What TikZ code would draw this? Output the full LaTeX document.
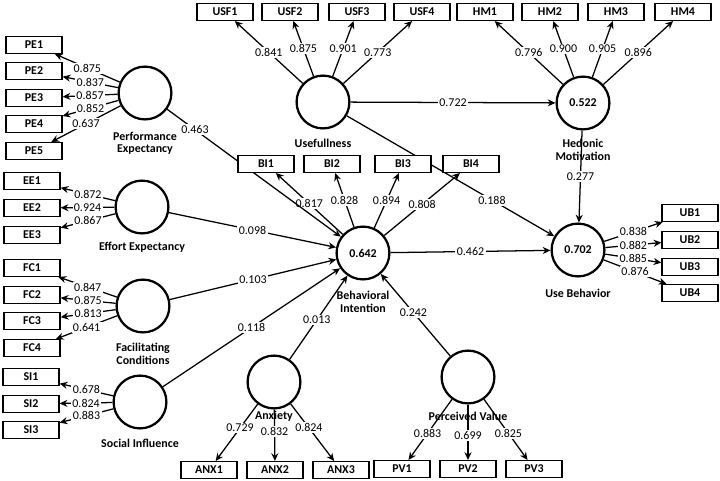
\documentclass[tikz,border=0pt]{standalone}
\usepackage{fontspec}
\setmainfont{Carlito}
\usetikzlibrary{arrows.meta,backgrounds}

\newcommand{\tamano}{\fontsize{8.5}{8.8}\selectfont}

\begin{document}
\begin{tikzpicture}[x=0.025cm,y=-0.025cm,font=\tamano,
  latent/.style={draw,circle,line width=1.6pt,minimum size=1.32cm,inner sep=0pt,fill=white,font=\tamano\bfseries},
  ind/.style={draw,line width=0.9pt,minimum width=1.4cm,minimum height=0.42cm,inner sep=0pt,fill=white,font=\tamano\bfseries},
  nombre/.style={font=\tamano\bfseries,align=center},
  carga/.style={fill=white,inner sep=1pt},
  flecha/.style={line width=0.9pt,-{Stealth[length=5.5pt,width=5pt]}}]
\useasboundingbox (0,0) rectangle (720,480);

% Constructos (circulos)
\node[latent] (PE) at (145,93) {};
\node[latent] (EE) at (142,207) {};
\node[latent] (FC) at (143,306) {};
\node[latent] (SI) at (140,402) {};
\node[latent] (USF) at (323,102) {};
\node[latent] (HM) at (583,103) {0.522};
\node[latent] (BI) at (363,253) {0.642};
\node[latent] (UB) at (578,250) {0.702};
\node[latent] (ANX) at (274,382) {};
\node[latent] (PV) at (468,377) {};

% Nombres de los constructos
\node[nombre] (PEn) at (145,143) {Performance\\Expectancy};
\node[nombre] (EEn) at (142,247) {Effort Expectancy};
\node[nombre] (FCn) at (143,354) {Facilitating\\Conditions};
\node[nombre] (SIn) at (140,443) {Social Influence};
\node[nombre] (USFn) at (323,143) {Usefullness};
\node[nombre] (HMn) at (583,150) {Hedonic\\Motivation};
\node[nombre] (BIn) at (363,302) {Behavioral\\Intention};
\node[nombre] (UBn) at (578,293) {Use Behavior};
\node[nombre] (ANXn) at (274,416) {Anxiety};
\node[nombre] (PVn) at (468,416) {Perceived Value};

% Indicadores (cajas)
\foreach \i/\y in {1/45,2/71,3/98,4/124,5/151}
  \node[ind] (PE\i) at (34,\y) {PE\i};
\foreach \i/\y in {1/181,2/208,3/235}
  \node[ind] (EE\i) at (32,\y) {EE\i};
\foreach \i/\y in {1/268,2/295,3/321,4/348}
  \node[ind] (FC\i) at (32,\y) {FC\i};
\foreach \i/\y in {1/377,2/404,3/430}
  \node[ind] (SI\i) at (31,\y) {SI\i};
\foreach \i/\x in {1/225,2/290,3/357,4/422}
  \node[ind] (USF\i) at (\x,12) {USF\i};
\foreach \i/\x in {1/485,2/550,3/616,4/683}
  \node[ind] (HM\i) at (\x,12) {HM\i};
\foreach \i/\x in {1/266,2/332,3/403,4/471}
  \node[ind] (BI\i) at (\x,164) {BI\i};
\foreach \i/\y in {1/213,2/240,3/267,4/293}
  \node[ind] (UB\i) at (690,\y) {UB\i};
\foreach \i/\x in {1/209,2/275,3/341}
  \node[ind] (ANX\i) at (\x,470) {ANX\i};
\foreach \i/\x in {1/402,2/468,3/534}
  \node[ind] (PV\i) at (\x,469) {PV\i};

\begin{scope}[on background layer]
% Cargas externas
\foreach \i/\v in {1/0.875,2/0.837,3/0.857,4/0.852,5/0.637}
  \draw[flecha] (PE) -- node[carga] {\v} (PE\i);
\foreach \i/\v in {1/0.872,2/0.924,3/0.867}
  \draw[flecha] (EE) -- node[carga] {\v} (EE\i);
\foreach \i/\v in {1/0.847,2/0.875,3/0.813,4/0.641}
  \draw[flecha] (FC) -- node[carga] {\v} (FC\i);
\foreach \i/\v in {1/0.678,2/0.824,3/0.883}
  \draw[flecha] (SI) -- node[carga] {\v} (SI\i);
\foreach \i/\v in {1/0.841,2/0.875,3/0.901,4/0.773}
  \draw[flecha] (USF) -- node[carga] {\v} (USF\i);
\foreach \i/\v in {1/0.796,2/0.900,3/0.905,4/0.896}
  \draw[flecha] (HM) -- node[carga] {\v} (HM\i);
\foreach \i/\v in {1/0.817,2/0.828,3/0.894,4/0.808}
  \draw[flecha] (BI) -- node[carga] {\v} (BI\i);
\foreach \i/\v in {1/0.838,2/0.882,3/0.885,4/0.876}
  \draw[flecha] (UB) -- node[carga] {\v} (UB\i);
\foreach \i/\v in {1/0.729,2/0.832,3/0.824}
  \draw[flecha] (ANX) -- node[carga,pos=0.42] {\v} (ANX\i);
\foreach \i/\v in {1/0.883,2/0.699,3/0.825}
  \draw[flecha] (PV) -- node[carga,pos=0.56] {\v} (PV\i);

% Relaciones estructurales
\draw[flecha] (PE) -- node[carga,pos=0.16] {0.463} (BI);
\draw[flecha] (EE) -- node[carga] {0.098} (BI);
\draw[flecha] (FC) -- node[carga] {0.103} (BI);
\draw[flecha] (SI) -- node[carga] {0.118} (BI);
\draw[flecha] (ANX) -- node[carga,pos=0.47] {0.013} (BI);
\draw[flecha] (PV) -- node[carga,pos=0.53] {0.242} (BI);
\draw[flecha] (USF) -- node[carga] {0.722} (HM);
\draw[flecha] (USF) -- node[carga,pos=0.7] {0.188} (UB);
\draw[flecha] (HM) -- node[carga] {0.277} (UB);
\draw[flecha] (BI) -- node[carga] {0.462} (UB);
\end{scope}
\end{tikzpicture}
\end{document}
